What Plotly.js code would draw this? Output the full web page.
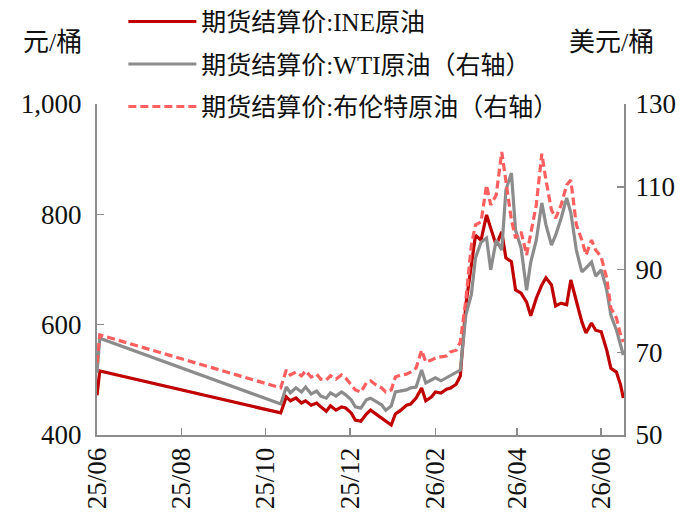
<!DOCTYPE html>
<html>
<head>
<meta charset="utf-8">
<script src="https://cdn.plot.ly/plotly-3.0.1.min.js"></script>
<style>html,body{margin:0;padding:0;background:#fff;}#chart{width:685px;height:514px;}</style>
</head>
<body>
<div id="chart"></div>
<script>
var dates = [
  '2025-06-01','2025-06-02','2025-06-03',
  '2025-10-12','2025-10-16','2025-10-19','2025-10-23','2025-10-27','2025-10-30',
  '2025-11-03','2025-11-07','2025-11-10','2025-11-14','2025-11-17','2025-11-21','2025-11-25','2025-11-28',
  '2025-12-02','2025-12-05','2025-12-09','2025-12-13','2025-12-16','2025-12-20','2025-12-24','2025-12-27','2025-12-31',
  '2026-01-03','2026-01-07','2026-01-11','2026-01-14','2026-01-18','2026-01-22','2026-01-25','2026-01-29',
  '2026-02-01','2026-02-05','2026-02-09','2026-02-12','2026-02-16','2026-02-19','2026-02-23','2026-02-27',
  '2026-03-02','2026-03-06','2026-03-10','2026-03-13','2026-03-17','2026-03-21','2026-03-24','2026-03-28','2026-03-31',
  '2026-04-04','2026-04-08','2026-04-11','2026-04-15','2026-04-19','2026-04-22','2026-04-26','2026-04-29',
  '2026-05-03','2026-05-07','2026-05-10','2026-05-14','2026-05-18','2026-05-21','2026-05-25','2026-05-28',
  '2026-06-01','2026-06-05','2026-06-08','2026-06-12','2026-06-15','2026-06-17'
];
var ine = [
  472,498,516,
  440,469,462,467,458,462,
  454,458,451,443,453,445,451,449,
  440,427,425,438,445,438,431,424,418,
  438,445,454,456,467,485,462,469,
  478,476,483,485,492,507,636,714,
  762,753,799,775,744,768,721,714,663,
  657,641,616,648,672,685,672,634,
  639,636,681,645,605,585,603,590,
  587,554,521,514,491,467
];
var wti = [
  65.0,69.5,73.4,
  57.5,61.6,60.2,61.4,60.4,61.6,
  59.9,60.6,59.4,58.9,60.2,59.4,60.4,59.7,
  58.5,56.8,56.5,58.5,58.9,58.0,57.3,56.0,57.0,
  60.4,60.6,60.9,61.4,61.6,65.7,62.6,63.3,
  63.8,63.1,63.8,64.5,65.0,65.7,79.0,84.0,
  92.8,96.6,97.6,89.9,97.1,94.7,109.2,113.3,99.5,
  95.2,85.0,91.8,97.1,106.1,100.8,95.9,98.3,
  102.4,107.3,103.7,94.7,89.4,90.4,91.8,88.4,
  89.9,85.0,79.0,75.4,71.8,69.3
];
var brent = [
  67.4,71.0,74.2,
  61.4,65.7,64.5,65.2,64.3,65.5,
  64.0,64.7,63.5,63.3,64.3,63.5,64.5,63.8,
  62.1,60.9,60.4,62.6,63.1,62.1,61.4,60.4,60.9,
  64.0,64.5,64.7,65.2,66.2,70.5,67.6,68.1,
  68.6,68.9,69.1,70.1,70.5,72.5,82.6,95.9,
  100.8,101.5,110.4,105.6,108.0,118.4,111.6,102.0,97.6,
  99.1,93.5,99.1,105.6,118.0,111.6,104.4,102.4,
  105.6,110.4,111.6,100.8,97.1,93.5,97.1,94.7,
  93.0,87.9,80.7,78.3,74.2,72.5
];
var seriesNames = ['期货结算价:INE原油','期货结算价:WTI原油（右轴）','期货结算价:布伦特原油（右轴）'];
var tickDates = ['2025-06-01','2025-08-01','2025-10-01','2025-12-01','2026-02-01','2026-04-01','2026-06-01'];
var tickLabels = ['25/06','25/08','25/10','25/12','26/02','26/04','26/06'];
var leftTicks = [400,600,800,1000];
var rightTicks = [50,70,90,110,130];
var leftUnit = '元/桶';
var rightUnit = '美元/桶';

var FONT = "'Liberation Serif','Times New Roman','Noto Sans CJK SC',serif";
var axisCol = '#8c8c8c';

var traces = [
  {x: dates, y: ine, name: seriesNames[0], type:'scatter', mode:'lines', yaxis:'y', legendgroup:'a',
   line:{color:'#c00000', width:3.2}},
  {x: dates, y: wti, name: seriesNames[1], type:'scatter', mode:'lines', yaxis:'y2', legendgroup:'b',
   line:{color:'#8c8c8c', width:3.2}},
  {x: dates, y: brent, name: seriesNames[2], type:'scatter', mode:'lines', yaxis:'y2', legendgroup:'c',
   line:{color:'#ff5f5f', width:3.2, dash:'8px,4px'}}
];

var layout = {
  width:685, height:514,
  margin:{l:97, r:61, t:104, b:79, autoexpand:false},
  paper_bgcolor:'#fff', plot_bgcolor:'rgba(0,0,0,0)',
  font:{family:FONT, size:26, color:'#111'},
  showlegend:true,
  legend:{x:0.05, xanchor:'left', y:1.318, yanchor:'top', traceorder:'grouped', tracegroupgap:7,
    itemwidth:68, bgcolor:'rgba(255,255,255,0)', font:{family:FONT, size:25, color:'#111'}},
  xaxis:{type:'date', range:['2025-06-01','2026-06-17 12:00'], tickvals:tickDates, ticktext:tickLabels,
    tickangle:-90, ticks:'inside', ticklen:7, tickcolor:axisCol, tickwidth:1.5,
    showline:true, linecolor:axisCol, linewidth:2, showgrid:false, zeroline:false,
    tickfont:{family:FONT, size:27}},
  yaxis:{range:[400,1000], tickvals:leftTicks, tickformat:',', ticks:'inside', ticklen:7, tickcolor:axisCol, tickwidth:1.5,
    showline:true, linecolor:axisCol, linewidth:2, showgrid:false, zeroline:false, ticklabelstandoff:8,
    tickfont:{family:FONT, size:27}},
  yaxis2:{range:[50,130], tickvals:rightTicks, overlaying:'y', side:'right', ticks:'inside', ticklen:7, tickcolor:axisCol, tickwidth:1.5,
    showline:true, linecolor:axisCol, linewidth:2, showgrid:false, zeroline:false, ticklabelstandoff:4,
    tickfont:{family:FONT, size:27}},
  annotations:[
    {text:leftUnit, xref:'paper', yref:'paper', x:-0.145, y:1.187, xanchor:'left', yanchor:'middle', showarrow:false,
     font:{family:FONT, size:26, color:'#111'}},
    {text:rightUnit, xref:'paper', yref:'paper', x:0.892, y:1.187, xanchor:'left', yanchor:'middle', showarrow:false,
     font:{family:FONT, size:26, color:'#111'}}
  ]
};

Plotly.newPlot('chart', traces, layout, {displayModeBar:false, staticPlot:true});
</script>
</body>
</html>
